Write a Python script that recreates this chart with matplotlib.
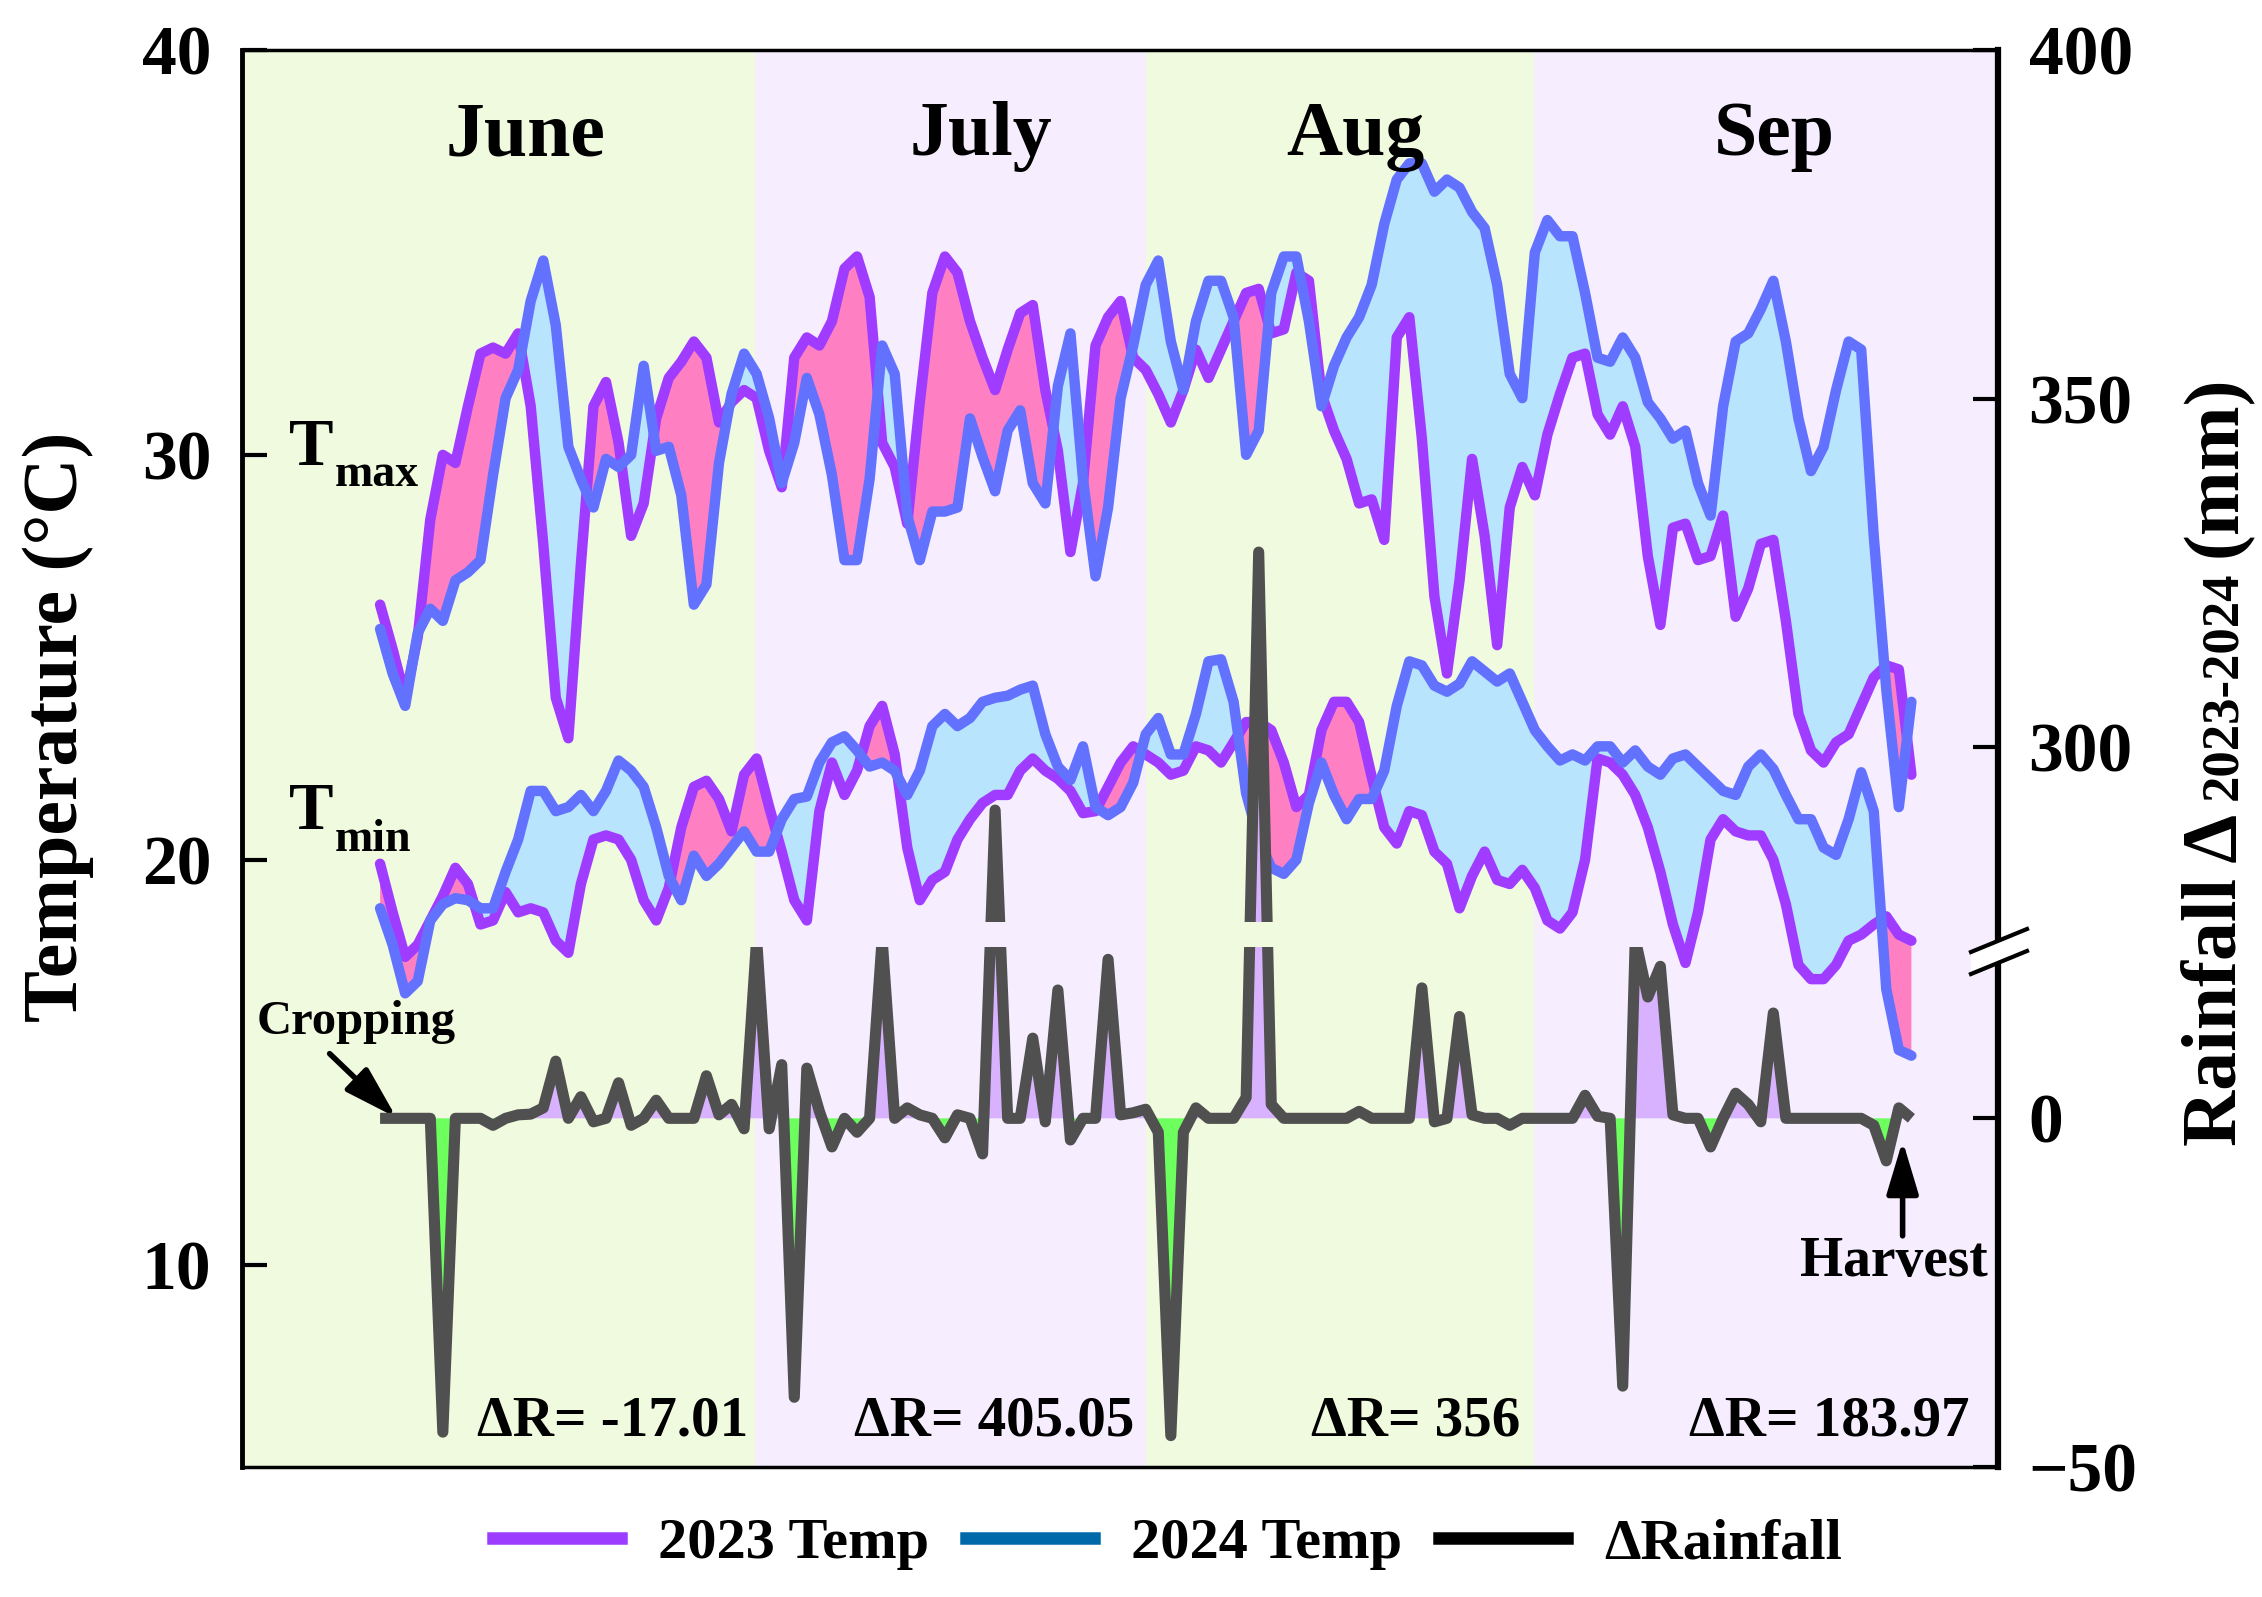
import numpy as np
import matplotlib
matplotlib.use("Agg")
import matplotlib.pyplot as plt
from matplotlib.patches import Rectangle, Polygon
from matplotlib.lines import Line2D
from matplotlib.transforms import IdentityTransform

plt.rcParams['font.family'] = ['Liberation Serif', 'DejaVu Serif']
plt.rcParams['font.weight'] = 'bold'
plt.rcParams['axes.unicode_minus'] = True

# ---------------- data ----------------
days = np.arange(11, 134)   # day index along the season (cropping -> harvest)

tmax_2023 = [26.3, 25.2, 24.0, 25.5, 28.4, 30.0, 29.8, 31.2, 32.5, 32.65,
             32.5, 33.0, 31.2, 27.8, 24.0, 23.0, 27.3, 31.2, 31.8, 30.3,
             28.0, 28.8, 30.9, 31.9, 32.3, 32.8, 32.4, 30.8, 31.3, 31.6,
             31.4, 30.1, 29.2, 32.4, 32.9, 32.7, 33.3, 34.6, 34.9, 33.9,
             30.3, 29.7, 28.3, 31.3, 34.0, 34.9, 34.5, 33.3, 32.4, 31.6,
             32.6, 33.5, 33.7, 31.6, 30.1, 27.6, 29.3, 32.7, 33.4, 33.8,
             32.4, 32.1, 31.5, 30.8, 31.6, 32.6, 31.9, 32.6, 33.3, 34.0,
             34.1, 33.0, 33.1, 34.5, 34.3, 31.5, 30.6, 29.9, 28.8, 28.9,
             27.9, 32.9, 33.4, 30.4, 26.5, 24.6, 26.9, 29.9, 28.0, 25.3,
             28.7, 29.7, 29.0, 30.5, 31.5, 32.4, 32.5, 31.0, 30.5, 31.2,
             30.2, 27.5, 25.8, 28.2, 28.3, 27.4, 27.5, 28.5, 26.0, 26.7,
             27.8, 27.9, 25.9, 23.6, 22.7, 22.4, 22.9, 23.1, 23.8, 24.5,
             24.8, 24.7, 22.1]

tmax_2024 = [25.7, 24.6, 23.8, 25.6, 26.2, 25.9, 26.9, 27.1, 27.4, 29.5,
             31.4, 32.1, 33.8, 34.8, 33.2, 30.2, 29.4, 28.7, 29.9, 29.7,
             30.0, 32.2, 30.1, 30.2, 29.0, 26.3, 26.8, 29.8, 31.5, 32.5,
             32.0, 30.9, 29.3, 30.3, 31.9, 31.0, 29.5, 27.4, 27.4, 29.4,
             32.7, 32.0, 28.5, 27.4, 28.6, 28.6, 28.7, 30.9, 29.95, 29.1,
             30.6, 31.1, 29.3, 28.8, 31.7, 33.0, 29.4, 27.0, 28.7, 31.4,
             32.7, 34.2, 34.8, 32.8, 31.6, 33.3, 34.3, 34.3, 33.4, 30.0,
             30.6, 34.0, 34.9, 34.9, 33.3, 31.2, 32.2, 32.9, 33.4, 34.2,
             35.7, 36.8, 37.2, 37.2, 36.5, 36.8, 36.6, 36.0, 35.6, 34.2,
             32.0, 31.4, 35.0, 35.8, 35.4, 35.4, 34.0, 32.4, 32.3, 32.9,
             32.4, 31.3, 30.9, 30.4, 30.6, 29.3, 28.5, 31.2, 32.8, 33.0,
             33.6, 34.3, 32.8, 30.9, 29.6, 30.2, 31.6, 32.8, 32.6, 28.0,
             24.2, 21.3, 23.9]

tmin_2023 = [19.9, 18.7, 17.6, 17.9, 18.5, 19.1, 19.8, 19.4, 18.4, 18.5,
             19.2, 18.7, 18.8, 18.7, 18.0, 17.7, 19.4, 20.5, 20.6, 20.5,
             20.0, 19.0, 18.5, 19.3, 20.8, 21.8, 21.95, 21.5, 20.7, 22.1,
             22.5, 21.3, 20.2, 19.0, 18.5, 21.2, 22.4, 21.6, 22.2, 23.3,
             23.8, 22.6, 20.3, 19.0, 19.5, 19.7, 20.5, 21.0, 21.4, 21.6,
             21.6, 22.2, 22.5, 22.2, 22.0, 21.7, 21.15, 21.2, 21.8, 22.4,
             22.8, 22.6, 22.4, 22.1, 22.2, 22.8, 22.7, 22.4, 22.9, 23.4,
             23.4, 23.2, 22.4, 21.3, 21.6, 23.2, 23.9, 23.9, 23.4, 22.05,
             20.8, 20.4, 21.2, 21.1, 20.2, 19.9, 18.8, 19.6, 20.2, 19.5,
             19.4, 19.75, 19.3, 18.5, 18.3, 18.7, 20.0, 22.5, 22.4, 22.1,
             21.6, 20.8, 19.7, 18.4, 17.45, 18.7, 20.5, 21.0, 20.7, 20.6,
             20.6, 20.0, 18.9, 17.4, 17.05, 17.05, 17.4, 18.0, 18.15, 18.4,
             18.6, 18.15, 18.0]

tmin_2024 = [18.8, 17.9, 16.7, 17.0, 18.5, 18.9, 19.05, 19.0, 18.8, 18.8,
             19.7, 20.5, 21.7, 21.7, 21.2, 21.3, 21.6, 21.2, 21.7, 22.45,
             22.2, 21.8, 20.8, 19.6, 19.0, 20.1, 19.6, 19.9, 20.3, 20.7,
             20.2, 20.2, 21.0, 21.5, 21.56, 22.4, 22.9, 23.05, 22.7, 22.3,
             22.4, 22.2, 21.6, 22.2, 23.3, 23.6, 23.3, 23.5, 23.9, 24.0,
             24.05, 24.2, 24.3, 23.1, 22.3, 21.97, 22.8, 21.3, 21.1, 21.3,
             21.9, 23.1, 23.5, 22.6, 22.6, 23.6, 24.9, 24.95, 23.9, 21.64,
             20.5, 19.8, 19.65, 20.0, 21.4, 22.4, 21.6, 21.0, 21.5, 21.5,
             22.2, 23.8, 24.9, 24.8, 24.3, 24.15, 24.35, 24.9, 24.65, 24.4,
             24.6, 23.9, 23.2, 22.8, 22.45, 22.6, 22.45, 22.8, 22.8, 22.4,
             22.7, 22.3, 22.1, 22.5, 22.6, 22.3, 22.0, 21.7, 21.6, 22.3,
             22.6, 22.24, 21.6, 21.0, 21.0, 20.3, 20.12, 21.0, 22.16, 21.2,
             16.8, 15.3, 15.16]

# daily rainfall difference 2023-2024 (mm)
rain_delta = [0, 0, 0, 0, 0, -45, 0, 0, 0, -1.0,
              0, 0.5, 0.6, 1.5, 8.2, 0, 3.1, -0.5, 0, 5.1,
              -1.0, 0, 2.6, 0, 0, 0, 6.1, 0.5, 2.0, -1.5,
              100, -1.5, 7.7, -40, 7.2, 1.0, -4.1, 0, -2.0, 0,
              100, 0, 1.5, 0.5, 0, -2.8, 0.5, 0, -5.1, 291,
              0, 0, 11.5, -0.5, 18.4, -3.1, 0, 0, 22.8, 0.5,
              0.8, 1.3, -2.0, -45.5, -2.0, 1.5, 0, 0, 0, 3,
              328, 2, 0, 0, 0, 0, 0, 0, 1.0, 0,
              0, 0, 0, 18.7, -0.5, 0, 14.6, 0.5, 0, 0,
              -1.0, 0, 0, 0, 0, 0, 3.3, 0.3, 0, -38.4,
              100, 17.4, 21.8, 0.5, 0, 0, -4.1, 0, 3.6, 2.0,
              -0.5, 15.1, 0, 0, 0, 0, 0, 0, 0, -1.0,
              -6.1, 1.5, 0]

months = ['June', 'July', 'Aug', 'Sep']
month_edges = [0, 40.85, 72.05, 102.9, 139.9]
month_label_x = [22.6, 58.85, 88.7, 122.1]
delta_r_labels = ['ΔR= -17.01', 'ΔR= 405.05', 'ΔR= 356', 'ΔR= 183.97']
delta_r_x = [40.36, 71.1, 101.85, 137.65]

temp_ticks = [10, 20, 30, 40]
rain_ticks = [-50, 0, 300, 350, 400]
rain_tick_labels = ['\u221250', '0', '300', '350', '400']

# ---------------- styles ----------------
C23 = '#A03CFF'
C24 = '#6272FF'
PINK = '#FF80C2'
LBLUE = '#B8E4FE'
GREEN_BG = '#F0FADF'
LAV_BG = '#F6EEFE'
RAIN = '#505050'
RAIN_POS = '#D8B2FE'
RAIN_NEG = '#6CFF5E'

W, H = 2262, 1597
fig = plt.figure(figsize=(W / 100, H / 100), dpi=100)
ax = fig.add_axes([242 / W, 1 - 1467 / H, (1998 - 242) / W, (1467 - 50) / H])

for i in range(4):
    ax.axvspan(month_edges[i], month_edges[i + 1], color=[GREEN_BG, LAV_BG][i % 2],
               lw=0, zorder=0)

d = days
for a, b in ((tmax_2023, tmax_2024), (tmin_2023, tmin_2024)):
    a = np.array(a); b = np.array(b)
    ax.fill_between(d, a, b, where=a >= b, interpolate=True, color=PINK, lw=0, zorder=2)
    ax.fill_between(d, a, b, where=b >= a, interpolate=True, color=LBLUE, lw=0, zorder=2)

for s in (tmax_2023, tmin_2023):
    ax.plot(d, s, color=C23, lw=7.5, solid_joinstyle='round', solid_capstyle='round', zorder=3)
for s in (tmax_2024, tmin_2024):
    ax.plot(d, s, color=C24, lw=7.5, solid_joinstyle='round', solid_capstyle='round', zorder=3)

ax.set_xlim(month_edges[0], month_edges[-1])
ax.set_ylim(5, 40)
ax.set_xticks([])
ax.set_yticks(temp_ticks)
ax.tick_params(axis='y', direction='in', length=18, width=3, labelsize=50, pad=22)
for lab in ax.get_yticklabels():
    lab.set_fontweight('bold')

# ---------------- rainfall on broken right axis ----------------
B_LO, B_HI, B_GAP = 24.6, 275.0, 3.6
SHIFT = B_HI - (B_LO + B_GAP)


def rain_fwd(r):
    r = np.asarray(r, dtype=float)
    mid = B_LO + (r - B_LO) * B_GAP / (B_HI - B_LO)
    return np.where(r <= B_LO, r, np.where(r >= B_HI, r - SHIFT, mid))


def rain_inv(p):
    p = np.asarray(p, dtype=float)
    mid = B_LO + (p - B_LO) * (B_HI - B_LO) / B_GAP
    return np.where(p <= B_LO, p, np.where(p >= B_LO + B_GAP, p + SHIFT, mid))


ax2 = ax.twinx()
ax2.set_yscale('function', functions=(rain_fwd, rain_inv))
ax2.set_ylim(-50, 400)
ax2.set_yticks(rain_ticks)
ax2.set_yticklabels(rain_tick_labels)
ax2.tick_params(axis='y', direction='in', length=18, width=3, labelsize=50, pad=22)
for lab in ax2.get_yticklabels():
    lab.set_fontweight('bold')
ax2.yaxis.set_minor_locator(matplotlib.ticker.NullLocator())

rain = np.array(rain_delta, dtype=float)
clip_low = Rectangle((-5, -80), 160, 80 + B_LO, transform=ax2.transData)
clip_high = Rectangle((-5, B_HI), 160, 600, transform=ax2.transData)
for clip in (clip_low, clip_high):
    f1 = ax2.fill_between(d, 0, rain, where=rain >= 0, interpolate=True,
                          color=RAIN_POS, lw=0, zorder=3)
    f2 = ax2.fill_between(d, 0, rain, where=rain <= 0, interpolate=True,
                          color=RAIN_NEG, lw=0, zorder=3)
    ln, = ax2.plot(d, rain, color=RAIN, lw=8, solid_joinstyle='round',
                   solid_capstyle='butt', zorder=4)
    for art in (f1, f2, ln):
        art.set_clip_path(clip)

# spines
for sp in ('left', 'top', 'bottom'):
    ax2.spines[sp].set_visible(False)
ax.spines['right'].set_visible(False)
ax.spines['left'].set_linewidth(3.5)
ax.spines['top'].set_linewidth(2.5)
ax.spines['bottom'].set_linewidth(2.5)
ax2.spines['right'].set_linewidth(4.5)

# ---------------- annotations ----------------
for name, xm in zip(months, month_label_x):
    ax.text(xm, 37.4, name, ha='center', va='baseline', fontsize=56,
            fontweight='bold', zorder=6)
for lab, xr in zip(delta_r_labels, delta_r_x):
    ax.text(xr, 5.79, lab, ha='right', va='baseline', fontsize=41,
            fontweight='bold', zorder=6)

ax.text(3.7, 29.74, 'T', ha='left', va='baseline', fontsize=48, fontweight='bold', zorder=6)
ax.text(7.36, 29.22, 'max', ha='left', va='baseline', fontsize=33, fontweight='bold', zorder=6)
ax.text(3.7, 20.75, 'T', ha='left', va='baseline', fontsize=48, fontweight='bold', zorder=6)
ax.text(7.36, 20.22, 'min', ha='left', va='baseline', fontsize=33, fontweight='bold', zorder=6)

ax.text(1.15, 15.7, 'Cropping', ha='left', va='baseline', fontsize=35,
        fontweight='bold', zorder=6)
ax.annotate('', xy=(12.3, 13.63), xytext=(6.98, 15.21),
            arrowprops=dict(arrowstyle='-|>,head_length=0.5,head_width=0.15',
                            color='k', lw=4, mutation_scale=65,
                            shrinkA=0, shrinkB=0), zorder=7)
ax.text(131.6, 9.72, 'Harvest', ha='center', va='baseline', fontsize=40,
        fontweight='bold', zorder=6)
ax.annotate('', xy=(132.3, 13.06), xytext=(132.3, 10.71),
            arrowprops=dict(arrowstyle='-|>,head_length=0.5,head_width=0.15',
                            color='k', lw=4, mutation_scale=65,
                            shrinkA=0, shrinkB=0), zorder=7)

# axis labels
fig.text(58 / W, 0.545, 'Temperature (\u00b0C)', rotation=90, ha='center',
         va='center', fontsize=56, fontweight='bold')

fig.canvas.draw()
renderer = fig.canvas.get_renderer()
idt = IdentityTransform()
x_base = 2236
y_cur = H - 1146
gap = 14
for txt, fs in (('Rainfall \u0394', 56), ('2023-2024', 38), ('(mm)', 56)):
    t = fig.text(x_base, y_cur, txt, rotation=90, rotation_mode='anchor',
                 ha='left', va='baseline', fontsize=fs, fontweight='bold',
                 transform=idt)
    bb = t.get_window_extent(renderer)
    y_cur = bb.y1 + gap

# axis break marks on the right spine
xs = 1998
yc = H - 940
brk = Polygon([[xs - 27, yc - 12], [xs + 29, yc + 11], [xs + 29, yc - 11], [xs - 27, yc - 34]],
              closed=True, facecolor='white', edgecolor='none', transform=idt, zorder=10)
fig.add_artist(brk)
for off in (0, -22):
    fig.add_artist(Line2D([xs - 27, xs + 29], [yc - 12 + off, yc + 11 + off],
                          color='k', lw=3, transform=idt, zorder=11))

# legend
handles = [Line2D([], [], color='#9B3CFF', lw=9),
           Line2D([], [], color='#0069AA', lw=9),
           Line2D([], [], color='black', lw=9)]
fig.legend(handles, ['2023 Temp', '2024 Temp', '\u0394Rainfall'], loc='center',
           bbox_to_anchor=(0.516, 0.0332), ncol=3, frameon=False,
           prop={'size': 42, 'weight': 'bold'}, handlelength=2.2,
           handletextpad=0.63, columnspacing=0.63)

fig.savefig('out.png', dpi=100)
